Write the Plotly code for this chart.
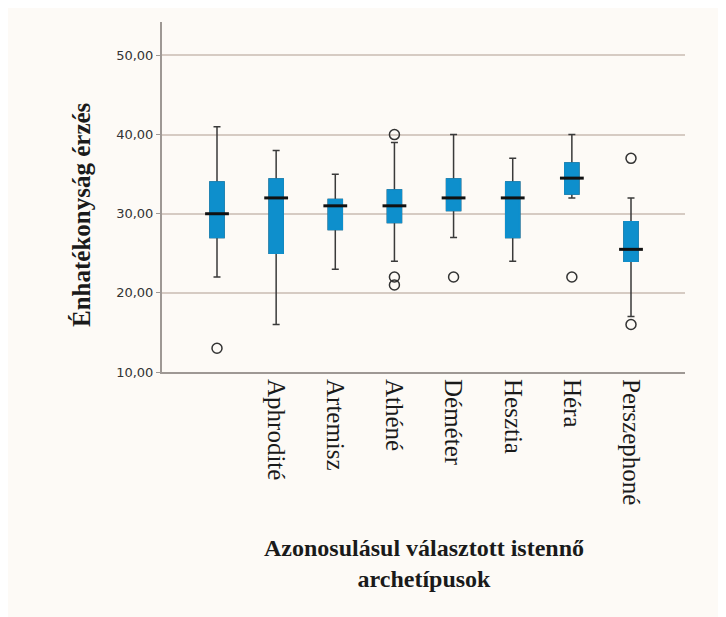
import plotly.graph_objects as go

categories = ["", "Aphrodité", "Artemisz", "Athéné", "Déméter", "Hesztia", "Héra", "Perszephoné"]
lower_whisker = [22, 16, 23, 24, 27, 24, 32, 17]
q1 = [27, 25, 28, 28.9, 30.4, 27, 32.5, 24]
median = [30, 32, 31, 31, 32, 32, 34.5, 25.5]
q3 = [34, 34.4, 31.8, 33, 34.4, 34, 36.4, 29]
upper_whisker = [41, 38, 35, 39, 40, 37, 40, 32]
outlier_cat = [0, 3, 3, 3, 4, 6, 7, 7]
outlier_val = [13, 40, 22, 21, 22, 22, 37, 16]

xpos = list(range(len(categories)))

BLUE = "#0E8FCC"
BG = "#FDFAF6"
BOXW = 0.237

fig = go.Figure()

# whiskers, caps (dark)
fig.add_trace(go.Box(
    x=xpos, q1=q1, median=median, q3=q3,
    lowerfence=lower_whisker, upperfence=upper_whisker,
    width=BOXW, whiskerwidth=0.5, boxpoints=False,
    line=dict(color="#3a3a3a", width=1.5), fillcolor=BLUE,
    showlegend=False, hoverinfo="skip",
))
# blue boxes on top
fig.add_trace(go.Box(
    x=xpos, q1=q1, median=median, q3=q3,
    lowerfence=q1, upperfence=q3,
    width=BOXW, whiskerwidth=0, boxpoints=False,
    line=dict(color=BLUE, width=1.5), fillcolor=BLUE,
    showlegend=False, hoverinfo="skip",
))
# medians
fig.add_trace(go.Scatter(
    x=xpos, y=median, mode="markers",
    marker=dict(symbol="line-ew", size=17, line=dict(color="#111111", width=3)),
    showlegend=False, hoverinfo="skip",
))
# outliers
fig.add_trace(go.Scatter(
    x=outlier_cat, y=outlier_val, mode="markers",
    marker=dict(symbol="circle-open", size=10, color="#333333", line=dict(width=1.5)),
    showlegend=False, hoverinfo="skip",
))

# plot area in page pixels: left 162, bottom 372, width 523, height 350
fig.update_layout(
    width=726, height=617,
    margin=dict(l=154, r=49, t=14, b=253),
    paper_bgcolor=BG, plot_bgcolor=BG,
    boxmode="overlay",
    separators=", ",
    showlegend=False,
    annotations=[
        dict(text="<b>Énhatékonyság érzés</b>", textangle=-90,
             xref="paper", yref="paper", x=(82 - 162) / 523, y=(372 - 215) / 350,
             xanchor="center", yanchor="middle", showarrow=False,
             font=dict(family="Liberation Serif", size=25, color="#1a1a1a")),
        dict(text="<b>Azonosulásul választott istennő<br>archetípusok</b>",
             xref="paper", yref="paper", x=(424 - 162) / 523, y=(372 - 563) / 350,
             xanchor="center", yanchor="middle", showarrow=False,
             font=dict(family="Liberation Serif", size=24, color="#1a1a1a")),
    ],
)

fig.update_xaxes(
    range=[-0.93, 7.913], tickmode="array", tickvals=xpos, ticktext=categories,
    tickangle=90, showgrid=False, zeroline=False,
    showline=True, linecolor="#9E9894", linewidth=2, ticks="",
    tickfont=dict(family="Liberation Serif", size=25, color="#1a1a1a"),
)
fig.update_yaxes(
    range=[10, 54.23], tickvals=[10, 20, 30, 40, 50], tickformat=".2f",
    showgrid=True, gridcolor="#D6CBC3", gridwidth=1.5, zeroline=False,
    showline=True, linecolor="#9E9894", linewidth=2,
    ticks="outside", ticklen=4, tickcolor="#9E9894",
    tickfont=dict(family="DejaVu Sans", size=13, color="#333333"),
)

fig.write_html("out.html")
